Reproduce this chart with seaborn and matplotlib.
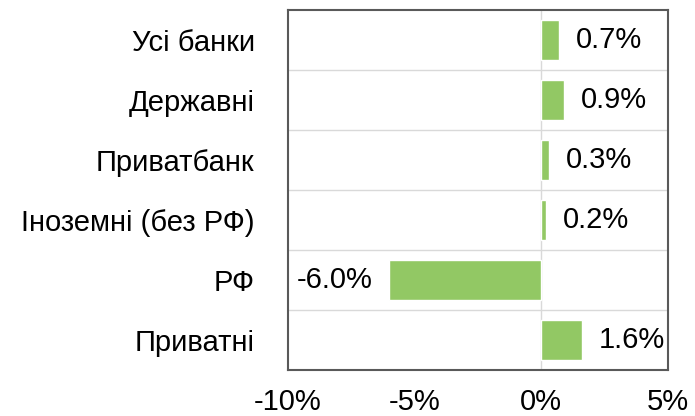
import pandas as pd
import seaborn as sns
import matplotlib.pyplot as plt
from matplotlib.ticker import FuncFormatter

categories = ['Усі банки', 'Державні', 'Приватбанк', 'Іноземні (без РФ)', 'РФ', 'Приватні']
values = [0.7, 0.9, 0.3, 0.2, -6.0, 1.6]

sns.set_style('white')
plt.rcParams['font.family'] = ['Liberation Sans', 'DejaVu Sans']
plt.rcParams['text.color'] = 'black'
plt.rcParams['xtick.color'] = 'black'
plt.rcParams['ytick.color'] = 'black'

df = pd.DataFrame({'cat': categories, 'val': values})

fig = plt.figure(figsize=(6.95, 4.16), dpi=100)
ax = fig.add_axes([0.4144, 0.1106, 0.5468, 0.8654])

sns.barplot(df, x='val', y='cat', orient='h', color='#92C864', saturation=1,
            width=0.67, errorbar=None, ax=ax, zorder=3)

for c in ax.containers:
    ax.bar_label(c, labels=[f'{v:.1f}%' for v in values], padding=12, fontsize=21)

ax.set_xlim(-10, 5)
ax.set_xticks([-10, -5, 0, 5])
ax.xaxis.set_major_formatter(FuncFormatter(lambda v, p: f'{v:.0f}%'))
ax.set_ylim(len(categories) - 0.5, -0.5)

# gridlines between categories
for b in range(1, len(categories)):
    ax.axhline(b - 0.5, color='#D9D9D9', lw=1, zorder=1)
ax.axvline(0, color='#D9D9D9', lw=1, zorder=1)

ax.tick_params(axis='y', length=0, pad=24, labelsize=21)
ax.tick_params(axis='x', length=0, pad=13, labelsize=21)
ax.set(xlabel='', ylabel='')
for s in ax.spines.values():
    s.set_color('#595959')
    s.set_linewidth(1.5)

plt.savefig('out.png', dpi=100)
